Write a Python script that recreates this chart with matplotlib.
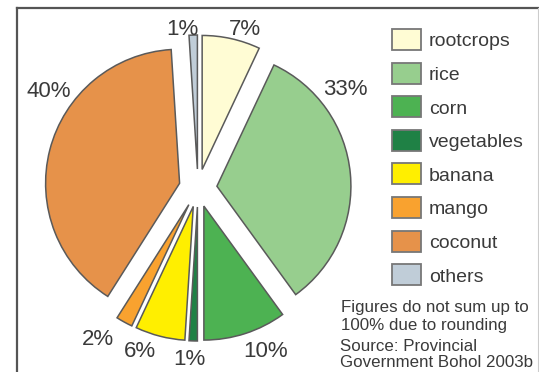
import matplotlib
matplotlib.use("Agg")
import matplotlib.pyplot as plt
from matplotlib.patches import Rectangle
from matplotlib.lines import Line2D

plt.rcParams['font.family'] = ['Liberation Sans', 'DejaVu Sans']

# Share of agricultural land use, Bohol
categories = ["rootcrops", "rice", "corn", "vegetables", "banana", "mango", "coconut", "others"]
shares = [7, 33, 10, 1, 6, 2, 40, 1]
colors = ["#FFFCD4", "#97CE8E", "#4DB252", "#1F8145", "#FFEF00", "#F9A22F", "#E6924A", "#C0CDD8"]
pct_labels = ["7%", "33%", "10%", "1%", "6%", "2%", "40%", "1%"]
note_lines = ["Figures do not sum up to", "100% due to rounding"]
source_lines = ["Source: Provincial", "Government Bohol 2003b"]

W, H = 539, 372
fig = plt.figure(figsize=(W / 100, H / 100), dpi=100)
ax = fig.add_axes([0, 0, 1, 1])

# pie drawn in pixel-like data units (y measured upward)
cx, cy, radius, gap = 198, H - 188, 134, 19
wedges, _ = ax.pie(shares, colors=colors, startangle=90, counterclock=False,
                   center=(cx, cy), radius=radius, explode=[gap] * len(shares),
                   wedgeprops=dict(edgecolor="#5a5a5a", linewidth=1.1))
ax.set_xlim(0, W)
ax.set_ylim(0, H)
ax.set_aspect("equal")
ax.axis("off")

# percentage labels (x, baseline y from the top)
label_pos = [(245, 35), (345, 95), (266, 357), (189, 365),
             (140, 357), (98, 345), (49, 97), (182, 35)]
for txt, (lx, ly) in zip(pct_labels, label_pos):
    ax.text(lx, H - ly, txt, ha="center", va="baseline", fontsize=16, color="#3a3a3a")

# legend
px, pw, ph, top0, step = 392, 29, 21, 29, 33.6
for i, (name, col) in enumerate(zip(categories, colors)):
    top = top0 + i * step
    ax.add_patch(Rectangle((px, H - top - ph), pw, ph, facecolor=col,
                           edgecolor="#777777", linewidth=1.3))
    ax.text(429, H - (top + ph / 2 + 7), name, ha="left", va="baseline",
            fontsize=14, color="#3a3a3a")

# notes
for txt, ly in zip(note_lines, [312, 330]):
    ax.text(341, H - ly, txt, ha="left", va="baseline", fontsize=12.2, color="#3a3a3a")
for txt, ly in zip(source_lines, [351, 367]):
    ax.text(340, H - ly, txt, ha="left", va="baseline", fontsize=12.2, color="#3a3a3a")

# frame lines
fig.add_artist(Line2D([17 / W, 1], [1 - 8 / H] * 2, color="#555555", linewidth=1.6,
                      transform=fig.transFigure))
fig.add_artist(Line2D([17 / W] * 2, [0, 1 - 8 / H], color="#555555", linewidth=1.6,
                      transform=fig.transFigure))
fig.add_artist(Line2D([537.5 / W] * 2, [0, 1 - 8 / H], color="#cccccc", linewidth=0.8,
                      transform=fig.transFigure))

fig.savefig("out.png", dpi=100, facecolor="white")
